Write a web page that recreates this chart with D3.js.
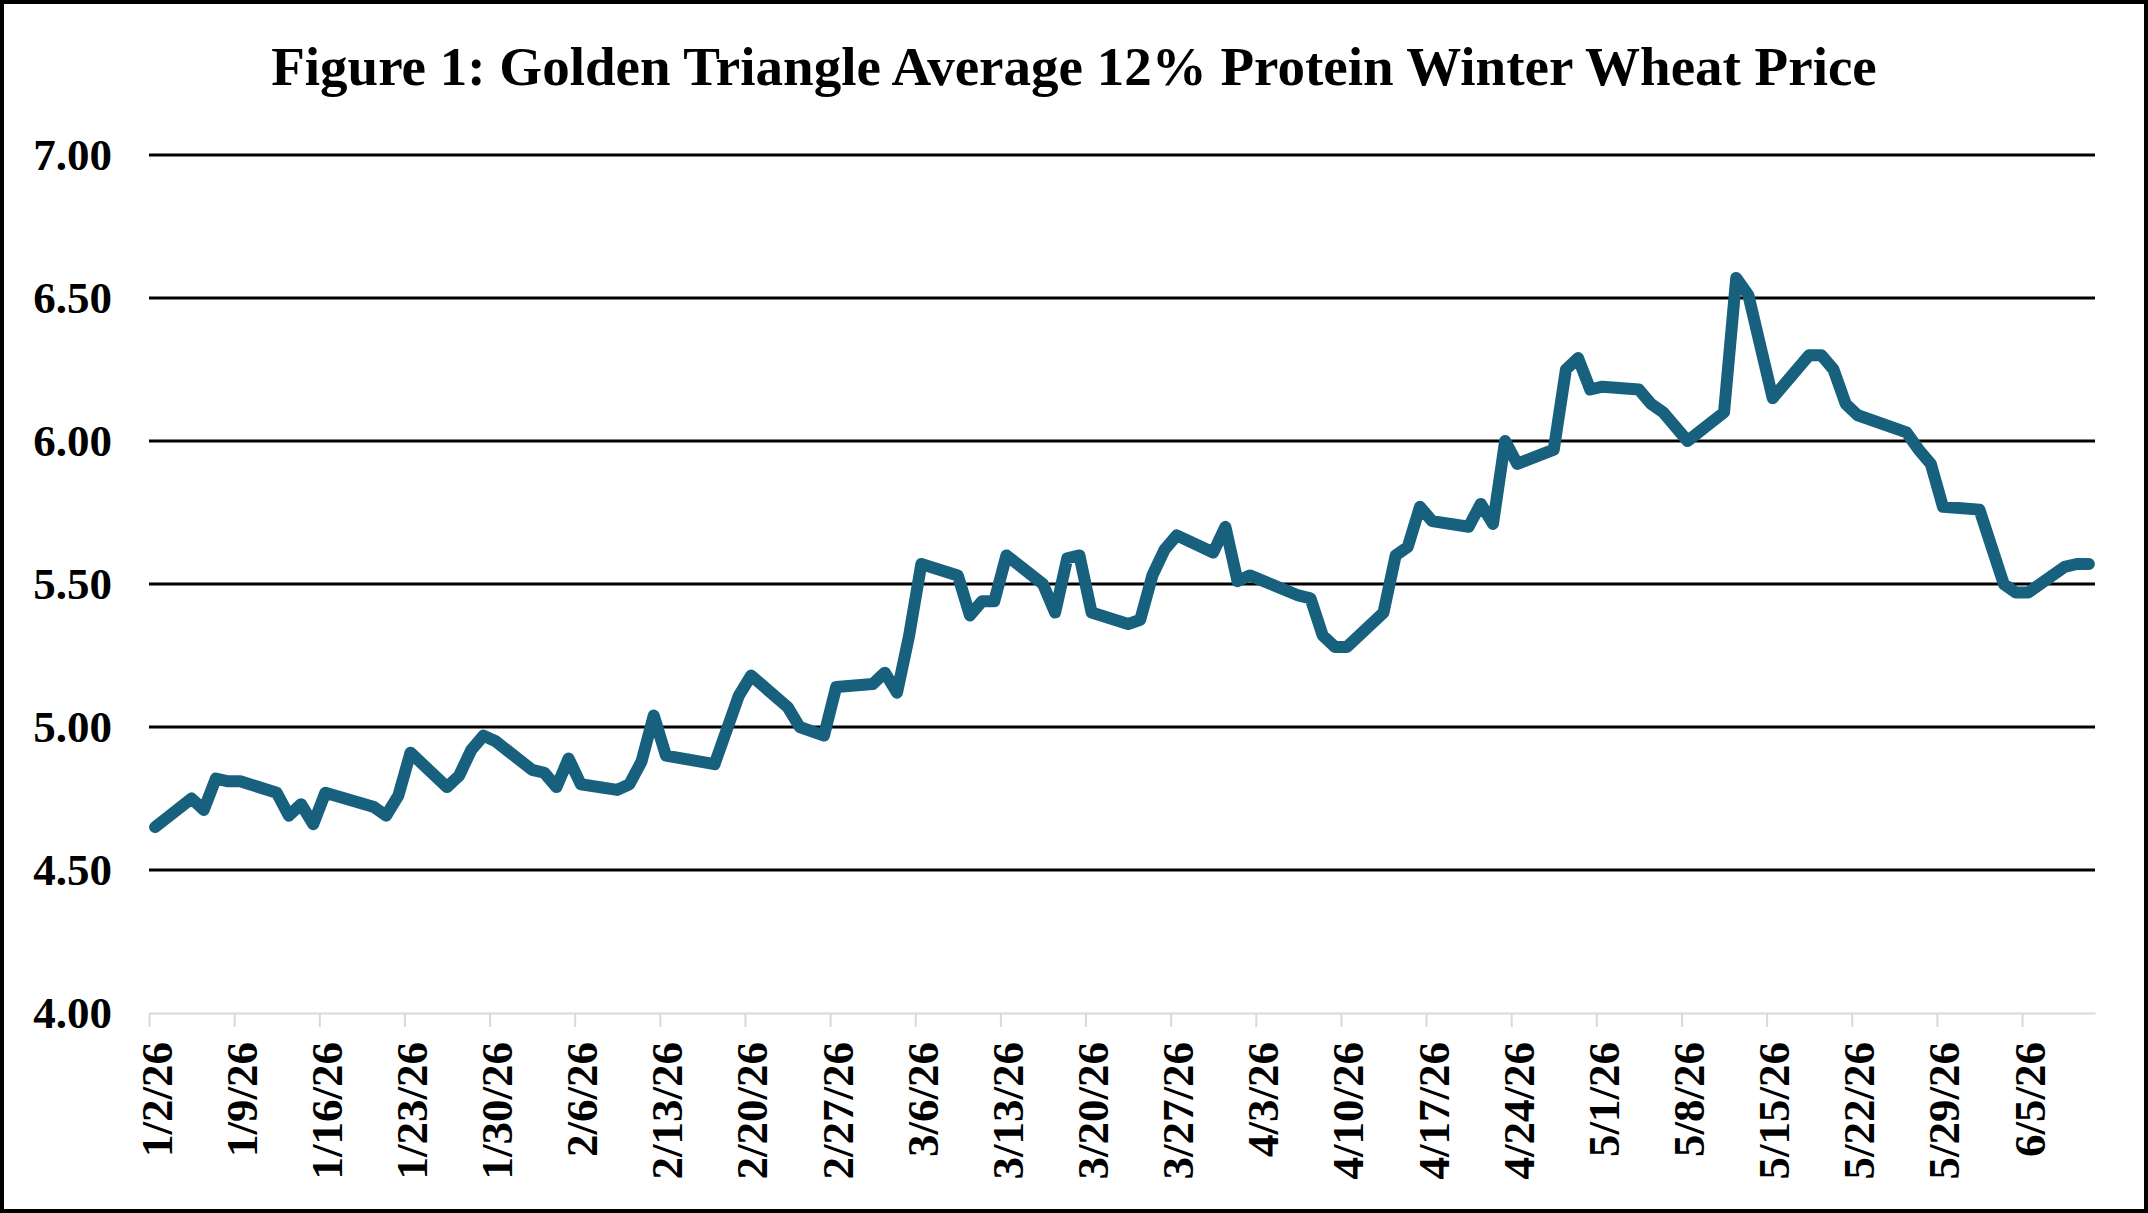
<!DOCTYPE html>
<html>
<head>
<meta charset="utf-8">
<script src="https://cdn.jsdelivr.net/npm/d3@7"></script>
<style>
  body { margin: 0; background: #fff; }
  text { font-family: "Liberation Serif", "Times New Roman", serif; font-weight: bold; fill: #000; }
</style>
</head>
<body>
<div id="vis"></div>
<script>
// daily prices (business days, gaps where no quote)
const DATES = [
  "2026-01-02","2026-01-05","2026-01-06","2026-01-07","2026-01-08","2026-01-09",
  "2026-01-12","2026-01-13","2026-01-14","2026-01-15","2026-01-16",
  "2026-01-20","2026-01-21","2026-01-22","2026-01-23",
  "2026-01-26","2026-01-27","2026-01-28","2026-01-29","2026-01-30",
  "2026-02-02","2026-02-03","2026-02-04","2026-02-05","2026-02-06",
  "2026-02-09","2026-02-10","2026-02-11","2026-02-12","2026-02-13",
  "2026-02-17","2026-02-19","2026-02-20",
  "2026-02-23","2026-02-24","2026-02-26","2026-02-27",
  "2026-03-02","2026-03-03","2026-03-04","2026-03-05","2026-03-06",
  "2026-03-09","2026-03-10","2026-03-11","2026-03-12","2026-03-13",
  "2026-03-16","2026-03-17","2026-03-18","2026-03-19","2026-03-20",
  "2026-03-23","2026-03-24","2026-03-25","2026-03-26","2026-03-27",
  "2026-03-30","2026-03-31","2026-04-01","2026-04-02",
  "2026-04-06","2026-04-07","2026-04-08","2026-04-09","2026-04-10",
  "2026-04-13","2026-04-14","2026-04-15","2026-04-16","2026-04-17",
  "2026-04-20","2026-04-21","2026-04-22","2026-04-23","2026-04-24",
  "2026-04-27","2026-04-28","2026-04-29","2026-04-30","2026-05-01",
  "2026-05-04","2026-05-05","2026-05-06","2026-05-08",
  "2026-05-11","2026-05-12","2026-05-13","2026-05-15",
  "2026-05-18","2026-05-19","2026-05-20","2026-05-21","2026-05-22",
  "2026-05-26","2026-05-27","2026-05-28","2026-05-29",
  "2026-06-01","2026-06-02","2026-06-03","2026-06-04","2026-06-05",
  "2026-06-08","2026-06-09","2026-06-10"
];
const PRICES = [
  4.65,4.75,4.71,4.82,4.81,4.81,
  4.77,4.69,4.73,4.66,4.77,
  4.72,4.69,4.76,4.91,
  4.79,4.83,4.92,4.97,4.95,
  4.85,4.84,4.79,4.89,4.80,
  4.78,4.80,4.88,5.04,4.90,
  4.87,5.11,5.18,
  5.07,5.00,4.97,5.14,
  5.15,5.19,5.12,5.32,5.57,
  5.53,5.39,5.44,5.44,5.60,
  5.50,5.40,5.59,5.60,5.40,
  5.36,5.375,5.53,5.62,5.67,
  5.61,5.70,5.51,5.53,
  5.46,5.45,5.32,5.28,5.28,
  5.40,5.60,5.63,5.77,5.72,
  5.70,5.78,5.71,6.00,5.92,
  5.97,6.25,6.29,6.18,6.19,
  6.18,6.13,6.10,6.00,
  6.10,6.57,6.51,6.15,
  6.30,6.30,6.25,6.13,6.09,
  6.03,5.97,5.92,5.77,
  5.76,5.63,5.50,5.47,5.47,
  5.56,5.57,5.57
];
const Y_TICKS = [4.0, 4.5, 5.0, 5.5, 6.0, 6.5, 7.0];
const TITLE = "Figure 1: Golden Triangle Average 12% Protein Winter Wheat Price";

const WIDTH = 2148;
const HEIGHT = 1213;
const PLOT = {left: 149, right: 2095, top: 155, bottom: 1013};

const svg = d3.select("#vis")
  .append("svg")
    .attr("width", WIDTH)
    .attr("height", HEIGHT);

svg.append("rect")
  .attr("x", 2).attr("y", 2)
  .attr("width", WIDTH - 4).attr("height", HEIGHT - 4)
  .attr("fill", "#fff")
  .attr("stroke", "#000")
  .attr("stroke-width", 4);

const parse = d3.utcParse("%Y-%m-%d");
const data = DATES.map((d, i) => ({date: parse(d), price: PRICES[i]}));

// date axis: one slot per day, points sit in the middle of their day
const X_SCALE = d3.scaleUtc()
  .domain([parse("2026-01-02"), parse("2026-06-11")])
  .range([PLOT.left, PLOT.right]);
const Y_SCALE = d3.scaleLinear()
  .domain([4, 7])
  .range([PLOT.bottom, PLOT.top]);

// title
svg.append("text")
  .attr("x", WIDTH / 2)
  .attr("y", 85)
  .attr("text-anchor", "middle")
  .attr("font-size", "55px")
  .text(TITLE);

// gridlines (black)
svg.append("g")
  .selectAll("line")
  .data(Y_TICKS.filter(d => d > 4))
  .enter()
  .append("line")
    .attr("x1", PLOT.left)
    .attr("x2", PLOT.right)
    .attr("y1", d => Y_SCALE(d))
    .attr("y2", d => Y_SCALE(d))
    .attr("stroke", "#000")
    .attr("stroke-width", 3);

// y labels
svg.append("g")
  .selectAll("text")
  .data(Y_TICKS)
  .enter()
  .append("text")
    .attr("x", 112)
    .attr("y", d => Y_SCALE(d) + 15)
    .attr("text-anchor", "end")
    .attr("font-size", "45px")
    .text(d => d.toFixed(2));

// x axis (light grey) with weekly ticks
const fridays = d3.utcFriday.range(parse("2026-01-02"), parse("2026-06-06"));
const xAxis = svg.append("g")
  .attr("transform", "translate(0," + PLOT.bottom + ")")
  .call(d3.axisBottom(X_SCALE)
    .tickValues(fridays)
    .tickSize(14)
    .tickSizeOuter(0)
    .tickFormat(d3.utcFormat("%-m/%-d/%y")));
xAxis.select(".domain").attr("stroke", "#d9d9d9").attr("stroke-width", 2);
xAxis.selectAll(".tick line").attr("stroke", "#d9d9d9").attr("stroke-width", 2);
xAxis.selectAll(".tick text")
  .attr("font-family", null)
  .attr("font-size", "45px")
  .attr("fill", "#000")
  .attr("text-anchor", "end")
  .attr("x", 0).attr("y", 0).attr("dy", null)
  .attr("transform", "translate(22,29) rotate(-90)");
xAxis.attr("font-family", null).attr("font-size", null);

// price line
const line = d3.line()
  .x(d => X_SCALE(d3.utcHour.offset(d.date, 12)))
  .y(d => Y_SCALE(d.price));

svg.append("path")
  .datum(data)
  .attr("d", line)
  .attr("fill", "none")
  .attr("stroke", "#17617f")
  .attr("stroke-width", 12)
  .attr("stroke-linejoin", "round")
  .attr("stroke-linecap", "round");
</script>
</body>
</html>
